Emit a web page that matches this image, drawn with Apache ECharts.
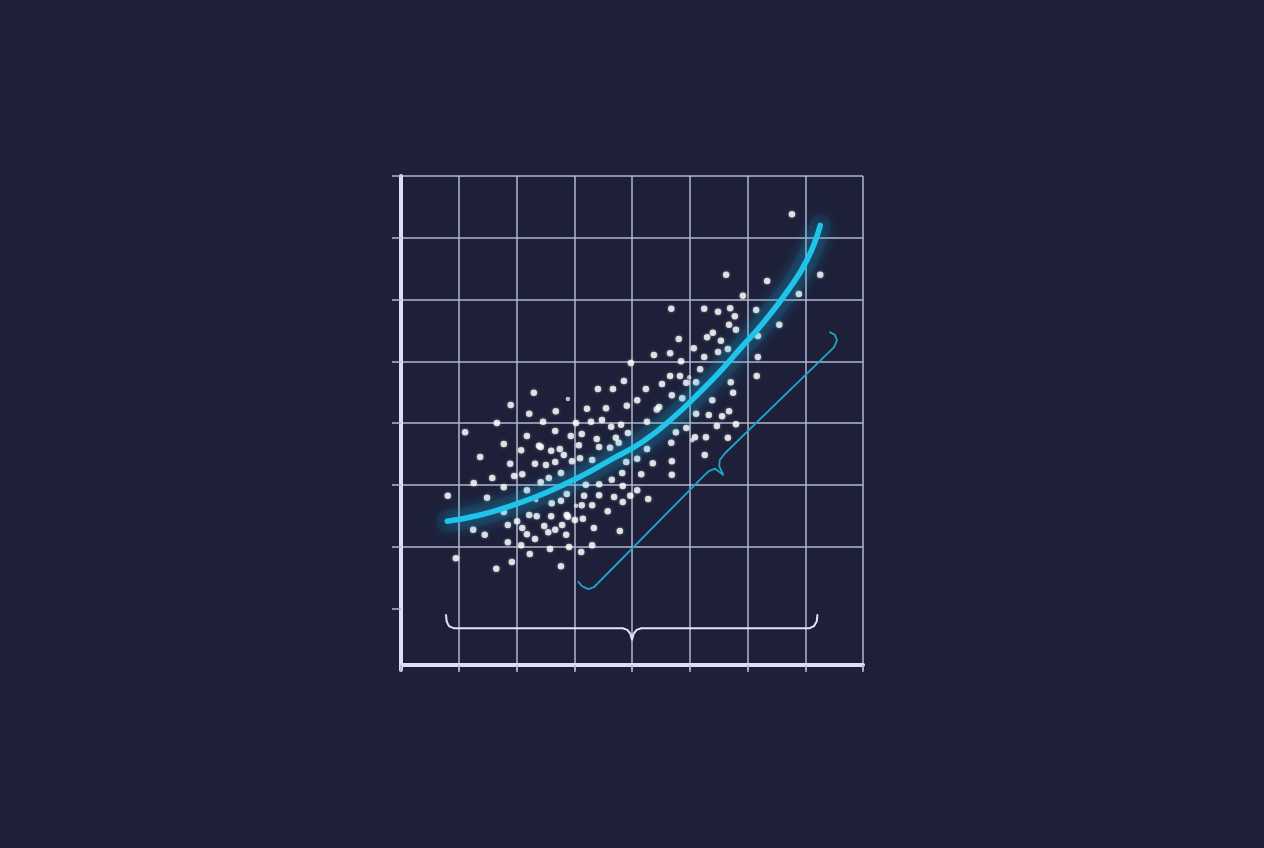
<!DOCTYPE html>
<html>
<head>
<meta charset="utf-8">
<script src="https://cdn.jsdelivr.net/npm/echarts/dist/echarts.min.js"></script>
<style>
html,body{margin:0;padding:0;background:#1e2039;}
#chart{width:1264px;height:848px;}
</style>
</head>
<body>
<div id="chart"></div>
<script>
// ---- data (axis units: x 0..8, y 0..8) ----
const dotX = [3.98,3.86,3.41,3.67,2.30,1.90,3.22,3.55,3.91,4.09,2.22,2.68,1.66,2.46,3.03,3.29,3.48,3.64,3.81,1.11,
2.18,2.67,2.94,3.13,3.39,3.72,3.93,3.77,1.78,2.39,2.42,2.60,2.75,2.82,3.08,3.43,3.62,2.08,1.37,1.89,
2.32,2.51,2.67,2.96,3.10,3.31,3.90,4.09,1.58,1.96,2.10,2.56,2.77,1.26,1.78,2.42,3.20,3.43,3.65,3.83,
3.84,4.09,4.16,0.81,1.49,2.18,2.87,3.17,3.43,3.69,3.97,3.84,2.61,2.77,3.13,3.31,3.58,1.78,2.22,2.35,
2.60,2.87,2.89,3.01,3.15,2.01,1.85,2.10,2.48,2.67,2.79,2.55,3.34,3.79,1.25,1.45,2.18,2.32,2.86,1.85,
2.08,2.58,2.91,3.31,0.95,1.65,1.92,2.23,3.12,2.77,4.66,4.52,4.24,4.69,4.43,4.47,4.26,4.26,4.68,4.36,
4.69,4.69,4.28,6.77,5.63,6.34,7.26,6.89,5.92,4.68,5.25,5.49,5.70,6.15,5.78,5.68,5.80,6.55,5.40,5.30,
5.54,4.81,6.18,5.07,5.66,5.49,4.38,4.66,5.25,6.18,4.85,5.18,4.83,4.94,5.11,5.71,6.16,4.87,5.39,5.75,
5.11,5.33,5.56,5.68,5.47,5.80,4.76,4.94,5.09,5.28,5.66,5.26];
const dotY = [4.97,4.68,4.55,4.55,4.49,4.29,4.23,4.24,4.28,4.37,4.15,4.19,4.00,4.02,4.00,4.02,4.05,3.94,3.97,3.85,
3.79,3.87,3.79,3.82,3.74,3.76,3.84,3.68,3.66,3.63,3.61,3.55,3.58,3.48,3.64,3.61,3.60,3.56,3.45,3.34,
3.34,3.32,3.37,3.38,3.43,3.40,3.37,3.42,3.11,3.14,3.17,3.11,3.19,3.03,2.96,3.04,3.00,3.01,3.08,3.19,
2.98,2.91,3.17,2.82,2.79,2.91,2.85,2.82,2.83,2.80,2.82,2.72,2.70,2.74,2.67,2.67,2.57,2.56,2.51,2.49,
2.49,2.51,2.48,2.43,2.45,2.41,2.35,2.30,2.33,2.27,2.35,2.23,2.30,2.25,2.27,2.19,2.20,2.12,2.19,2.07,
2.02,1.96,1.99,2.02,1.81,1.64,1.75,1.88,1.91,1.68,4.76,4.63,4.55,4.45,4.22,4.26,4.02,3.58,3.68,3.35,
3.38,3.16,2.77,7.38,6.40,6.30,6.40,6.09,6.06,5.85,5.85,5.80,5.86,5.83,5.73,5.59,5.51,5.59,5.46,5.39,
5.33,5.36,5.41,5.21,5.20,5.15,5.10,5.13,5.07,5.07,5.00,4.87,4.76,4.65,4.66,4.66,4.76,4.40,4.37,4.49,
4.15,4.13,4.11,4.19,3.95,3.98,3.85,3.92,3.77,3.77,3.76,3.48];
const smallDotX = [2.89,2.34,3.03,4.99,5.04];
const smallDotY = [4.39,2.75,2.66,4.74,3.72];

const curveX = [0.80,1.37,1.94,2.53,3.10,3.62,4.19,4.74,5.23,5.58,5.87,6.27,6.68,7.03,7.26];
const curveY = [2.41,2.51,2.67,2.88,3.13,3.40,3.70,4.11,4.55,4.89,5.20,5.62,6.12,6.64,7.20];

const braceCyanX = [7.43,7.51,7.55,7.50,5.61,5.52,5.51,5.58,5.44,5.33,5.23,3.34,3.24,3.13,3.07];
const braceCyanY = [5.47,5.43,5.34,5.23,3.51,3.40,3.30,3.16,3.26,3.22,3.13,1.34,1.31,1.36,1.43];

const braceWhiteX = [0.78,0.79,0.83,0.92,3.84,3.92,3.97,4.00,4.03,4.08,4.16,7.07,7.15,7.20,7.21];
const braceWhiteY = [0.89,0.79,0.71,0.675,0.675,0.65,0.59,0.49,0.59,0.65,0.675,0.675,0.71,0.79,0.89];

const yTickValues = [1,2,3,4,5,6,7,8];

const zip = (a, b) => a.map((v, i) => [v, b[i]]);

const gridColor = '#b2b6ce';
const axisColor = '#dcdff2';

const chart = echarts.init(document.getElementById('chart'));
chart.setOption({
  backgroundColor: '#1e2039',
  animation: false,
  grid: { left: 401, right: 401, top: 176, bottom: 178 },
  xAxis: {
    type: 'value', min: 0, max: 8, interval: 1, offset: -5,
    axisLine: { show: true, lineStyle: { color: axisColor, width: 4 } },
    axisTick: { show: true, length: 7, lineStyle: { color: gridColor, width: 1.5 } },
    axisLabel: { show: false },
    splitLine: { show: true, lineStyle: { color: gridColor, width: 1.5 } }
  },
  yAxis: {
    type: 'value', min: 0, max: 8, interval: 1,
    axisLine: { show: true, lineStyle: { color: axisColor, width: 4 } },
    axisTick: { show: true, length: 9, customValues: yTickValues, lineStyle: { color: gridColor, width: 1.5 } },
    axisLabel: { show: false },
    splitLine: { show: true, showMinLine: false, lineStyle: { color: gridColor, width: 1.5 } }
  },
  series: [
    {
      type: 'scatter', data: zip(dotX, dotY), symbolSize: 6.5, z: 3,
      itemStyle: { color: '#ffffff', shadowBlur: 3, shadowColor: 'rgba(255,255,255,0.5)' }
    },
    {
      type: 'scatter', data: zip(smallDotX, smallDotY), symbolSize: 4.5, z: 3,
      itemStyle: { color: '#e6e8f2' }
    },
    {
      type: 'line', data: zip(braceCyanX, braceCyanY), showSymbol: false, z: 2,
      lineStyle: { color: '#1ea6c6', width: 1.8, join: 'round', cap: 'round' }
    },
    {
      type: 'line', data: zip(braceWhiteX, braceWhiteY), showSymbol: false, z: 2,
      lineStyle: { color: '#e2e5f2', width: 2, join: 'round', cap: 'round' }
    },
    {
      type: 'line', data: zip(curveX, curveY), showSymbol: false, smooth: true, z: 4,
      lineStyle: { color: 'rgba(30,190,235,0.07)', width: 22, cap: 'round',
        shadowBlur: 20, shadowColor: 'rgba(30,190,235,0.35)' }
    },
    {
      type: 'line', data: zip(curveX, curveY), showSymbol: false, smooth: true, z: 5,
      lineStyle: { color: '#1fc4ea', width: 5.5, cap: 'round',
        shadowBlur: 18, shadowColor: 'rgba(25,200,245,0.85)' }
    }
  ]
});
</script>
</body>
</html>
